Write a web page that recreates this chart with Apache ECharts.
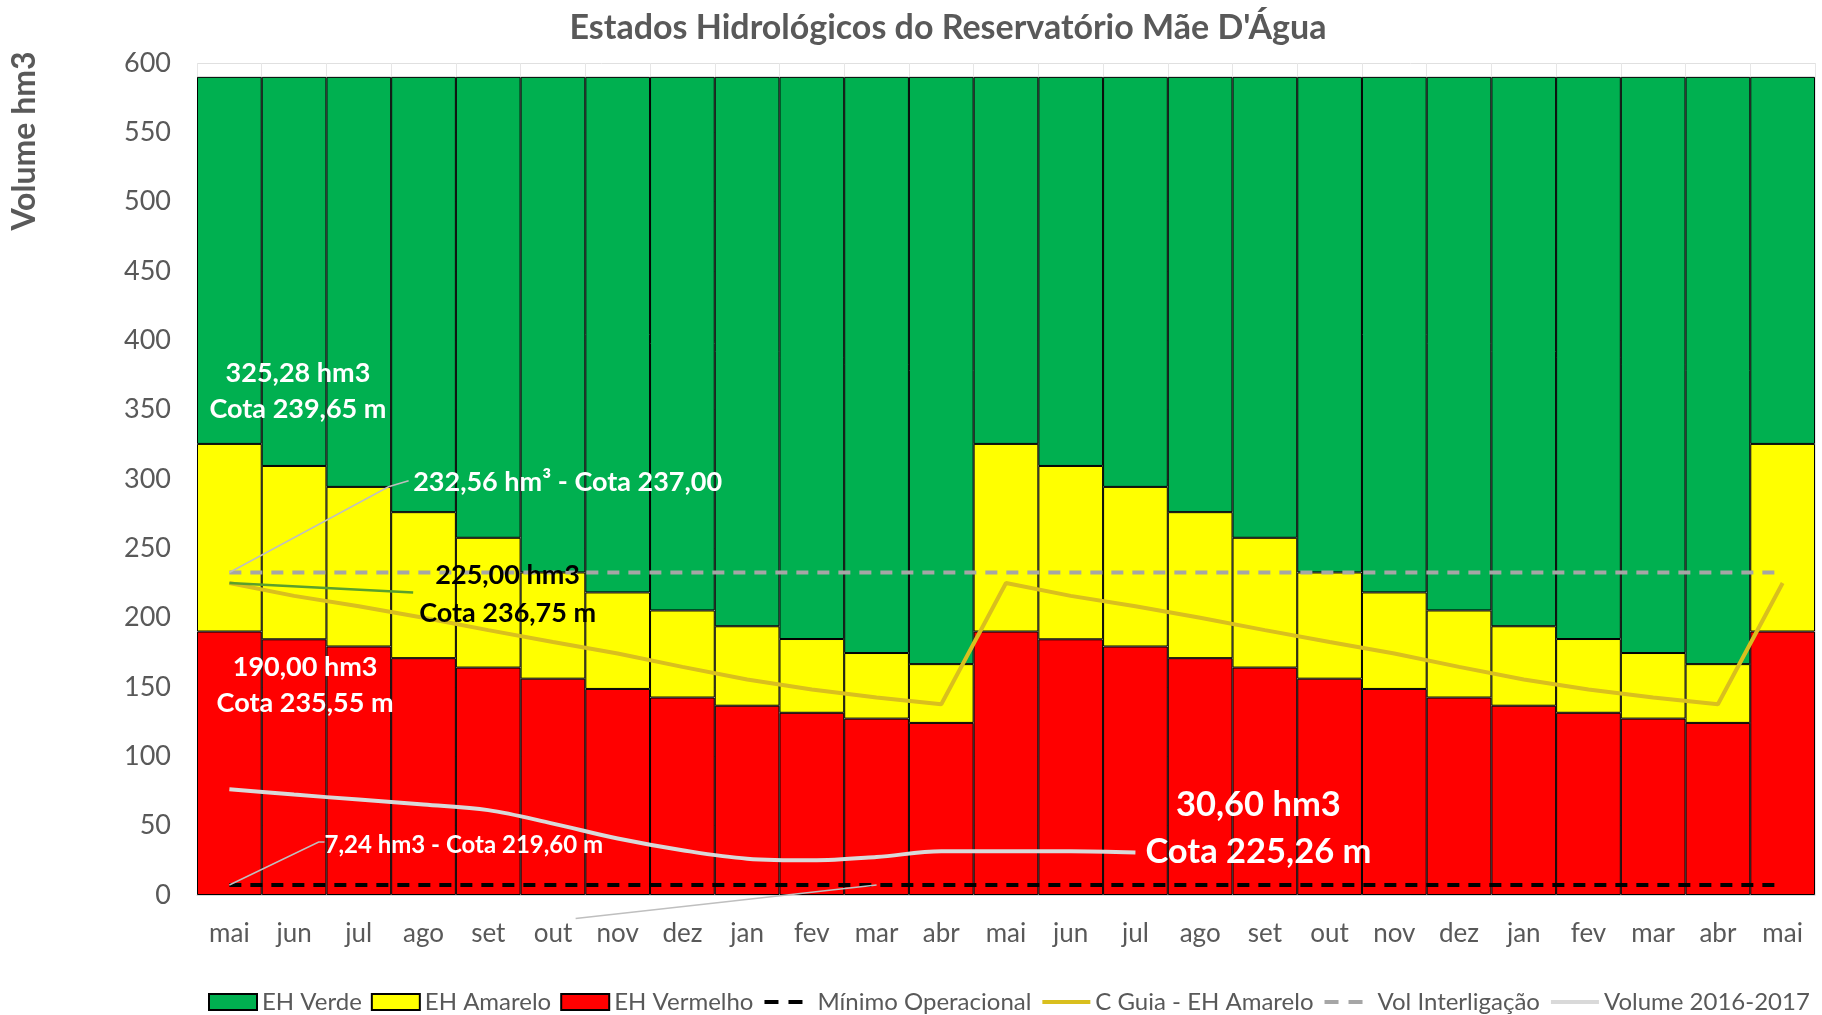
<!DOCTYPE html>
<html>
<head>
<meta charset="utf-8">
<script src="https://cdn.jsdelivr.net/npm/echarts@6/dist/echarts.min.js"></script>
<style>
  html, body { margin: 0; padding: 0; background: #fff; }
  #chart { width: 1822px; height: 1015px; }
</style>
</head>
<body>
<div id="chart"></div>
<script>
// meses (mai/2016 .. mai/2018)
const months = ['mai', 'jun', 'jul', 'ago', 'set', 'out', 'nov', 'dez', 'jan', 'fev', 'mar', 'abr',
  'mai', 'jun', 'jul', 'ago', 'set', 'out', 'nov', 'dez', 'jan', 'fev', 'mar', 'abr', 'mai'];

// faixas empilhadas (hm3)
const ehVermelho = [190.0, 184.4, 179.2, 170.8, 164.0, 156.0, 148.6, 142.4, 136.5, 131.4, 127.2, 124.1,
  190.0, 184.4, 179.2, 170.8, 164.0, 156.0, 148.6, 142.4, 136.5, 131.4, 127.2, 124.1, 190.0];
const ehAmarelo = [135.3, 125.0, 115.1, 105.3, 93.6, 76.6, 69.6, 62.8, 57.3, 53.2, 47.3, 42.4,
  135.3, 125.0, 115.1, 105.3, 93.6, 76.6, 69.6, 62.8, 57.3, 53.2, 47.3, 42.4, 135.3];
const ehVerde = [264.7, 280.6, 295.7, 313.9, 332.4, 357.4, 371.8, 384.8, 396.2, 405.4, 415.5, 423.5,
  264.7, 280.6, 295.7, 313.9, 332.4, 357.4, 371.8, 384.8, 396.2, 405.4, 415.5, 423.5, 264.7];

// linhas
const minimoOperacional = [7.24, 7.24, 7.24, 7.24, 7.24, 7.24, 7.24, 7.24, 7.24, 7.24, 7.24, 7.24,
  7.24, 7.24, 7.24, 7.24, 7.24, 7.24, 7.24, 7.24, 7.24, 7.24, 7.24, 7.24, 7.24];
const cGuia = [225.0, 215.7, 208.3, 199.9, 191.0, 182.5, 174.2, 164.5, 155.4, 148.2, 142.4, 137.6,
  225.0, 215.7, 208.3, 199.9, 191.0, 182.5, 174.2, 164.5, 155.4, 148.2, 142.4, 137.6, 225.0];
const volInterligacao = [232.56, 232.56, 232.56, 232.56, 232.56, 232.56, 232.56, 232.56, 232.56, 232.56, 232.56, 232.56,
  232.56, 232.56, 232.56, 232.56, 232.56, 232.56, 232.56, 232.56, 232.56, 232.56, 232.56, 232.56, 232.56];
const volume2016 = [76.3, 72.4, 68.8, 65.2, 61.2, 51.5, 40.7, 32.3, 26.2, 25.0, 27.4, 31.5, 31.5, 31.5, 30.6,
  null, null, null, null, null, null, null, null, null, null];

const yTicks = [0, 600, 50];

const gray = '#595959';
const font = 'Lato, "Noto Sans", sans-serif';
const noDot = { color: 'rgba(0,0,0,0)', borderWidth: 0 };

const chart = echarts.init(document.getElementById('chart'));

const option = {
  animation: false,
  textStyle: { fontFamily: font },
  title: {
    text: "Estados Hidrológicos do Reservatório Mãe D'Água",
    left: 943,
    textAlign: 'center',
    top: 6,
    textStyle: { fontSize: 34, fontWeight: 'bold', color: gray, fontFamily: font }
  },
  grid: { left: 197, right: 7, top: 63, bottom: 120 },
  legend: {
    top: 985,
    left: 203,
    itemWidth: 48,
    itemHeight: 16,
    itemGap: 9,
    lineStyle: { width: 4 },
    textStyle: { fontSize: 24, color: gray, fontFamily: font },
    data: [
      { name: 'EH Verde', icon: 'rect' },
      { name: 'EH Amarelo', icon: 'rect' },
      { name: 'EH Vermelho', icon: 'rect' },
      { name: 'Mínimo Operacional', itemStyle: noDot, lineStyle: { type: [14, 10] } },
      { name: 'C Guia - EH Amarelo', itemStyle: noDot },
      { name: 'Vol Interligação', itemStyle: noDot, lineStyle: { type: [14, 10] } },
      { name: 'Volume 2016-2017', itemStyle: noDot }
    ]
  },
  xAxis: {
    type: 'category',
    data: months,
    axisTick: { show: false },
    axisLine: { lineStyle: { color: '#d9d9d9' } },
    axisLabel: { fontSize: 26, color: gray, margin: 26, fontFamily: font },
    splitLine: { show: true, lineStyle: { color: '#e6e6e6' } }
  },
  yAxis: {
    type: 'value',
    min: yTicks[0],
    max: yTicks[1],
    interval: yTicks[2],
    axisLine: { show: false },
    axisTick: { show: false },
    axisLabel: { fontSize: 27, color: gray, margin: 26, fontFamily: font },
    splitLine: { lineStyle: { color: '#e0e0e0' } }
  },
  series: [
    {
      name: 'EH Vermelho', type: 'bar', stack: 'eh', data: ehVermelho,
      barCategoryGap: 0,
      itemStyle: { color: '#ff0000', borderColor: '#000', borderWidth: 1 }
    },
    {
      name: 'EH Amarelo', type: 'bar', stack: 'eh', data: ehAmarelo,
      itemStyle: { color: '#ffff00', borderColor: '#000', borderWidth: 1 }
    },
    {
      name: 'EH Verde', type: 'bar', stack: 'eh', data: ehVerde,
      itemStyle: { color: '#00b050', borderColor: '#000', borderWidth: 1 }
    },
    {
      name: 'Volume 2016-2017', type: 'line', data: volume2016, symbol: 'none', smooth: 0.35,
      lineStyle: { color: '#d9d9d9', width: 4 }, itemStyle: { color: '#d9d9d9' }, z: 3
    },
    {
      name: 'C Guia - EH Amarelo', type: 'line', data: cGuia, symbol: 'none',
      lineStyle: { color: '#d9bf1e', width: 4 }, itemStyle: { color: '#d9bf1e' }, z: 3
    },
    {
      name: 'Vol Interligação', type: 'line', data: volInterligacao, symbol: 'none',
      lineStyle: { color: '#a6a6a6', width: 4, type: [12, 9] }, itemStyle: { color: '#a6a6a6' }, z: 4
    },
    {
      name: 'Mínimo Operacional', type: 'line', data: minimoOperacional, symbol: 'none',
      lineStyle: { color: '#000', width: 4, type: [12, 9] }, itemStyle: { color: '#000' }, z: 4
    }
  ]
};

chart.setOption(option);

// anotações: posição em (índice da categoria, valor)
function pt(i, v) {
  const a = chart.convertToPixel({ gridIndex: 0 }, [0, v]);
  const b = chart.convertToPixel({ gridIndex: 0 }, [1, v]);
  return [a[0] + i * (b[0] - a[0]), a[1]];
}
function text(str, i, v, size, color, align) {
  const p = pt(i, v);
  return {
    type: 'text', x: p[0], y: p[1], z: 100,
    style: {
      text: str, fill: color, font: 'bold ' + size + 'px ' + font,
      textAlign: align || 'center', textVerticalAlign: 'middle'
    }
  };
}
function leader(points, color, width) {
  return {
    type: 'polyline', z: 90,
    shape: { points: points.map(function (q) { return pt(q[0], q[1]); }) },
    style: { stroke: color, lineWidth: width || 1.5, fill: null }
  };
}

chart.setOption({
  graphic: [
    {
      type: 'text', x: 25, y: 141, rotation: Math.PI / 2,
      style: { text: 'Volume hm3', fill: gray, font: 'bold 32px ' + font, textAlign: 'center', textVerticalAlign: 'middle' }
    },
    text('325,28 hm3', 1.06, 376, 27, '#fff'),
    text('Cota 239,65 m', 1.06, 350, 27, '#fff'),
    leader([[0, 232.56], [2.46, 294.4], [2.77, 298.7]], '#bfbfbf', 1.5),
    text('232,56 hm³ - Cota 237,00', 2.84, 297.3, 27, '#fff', 'left'),
    leader([[0, 225], [2.84, 218.2]], '#5aa02c', 2.5),
    text('225,00 hm3', 4.3, 230.7, 27, '#000'),
    text('Cota 236,75 m', 4.3, 203.5, 27, '#000'),
    text('190,00 hm3', 1.17, 164.5, 27, '#fff'),
    text('Cota 235,55 m', 1.17, 138.5, 27, '#fff'),
    leader([[0, 7.24], [1.38, 38.2], [1.47, 38.2]], '#bfbfbf', 1.5),
    text('7,24 hm3 - Cota 219,60 m', 1.47, 36, 24, '#fff', 'left'),
    text('30,60 hm3', 15.9, 64.7, 34.5, '#fff'),
    text('Cota 225,26 m', 15.9, 31, 34.5, '#fff'),
    leader([[5.35, -17], [10, 7.24]], '#bfbfbf', 1.5)
  ]
});
</script>
</body>
</html>
